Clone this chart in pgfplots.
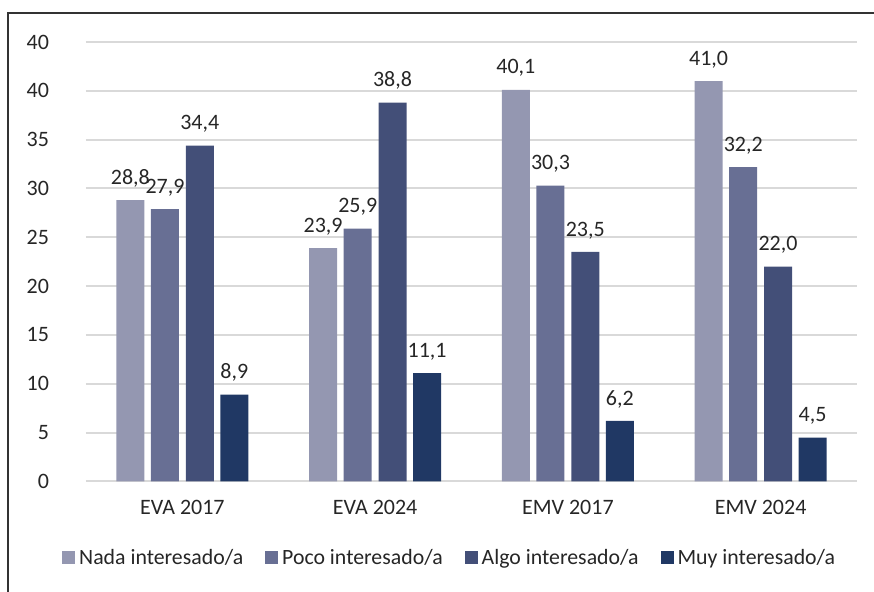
\documentclass[border=0pt]{standalone}
\usepackage{pgfplots}
\pgfplotsset{compat=1.18}
\usepackage{fontspec}
\setmainfont{Carlito}
\definecolor{cNada}{HTML}{9497B1}
\definecolor{cPoco}{HTML}{686F94}
\definecolor{cAlgo}{HTML}{434F78}
\definecolor{cMuy}{HTML}{203864}
\definecolor{txt}{HTML}{262626}
\definecolor{grid}{HTML}{D9D9D9}
\begin{document}
\begin{tikzpicture}
\useasboundingbox (0,0) rectangle (437pt,296pt);
\draw[line width=1pt, color=black!80] (4pt,0pt) -- (4pt,289.5pt) -- (437pt,289.5pt);
\begin{axis}[
  at={(43pt,55.25pt)}, anchor=south west,
  scale only axis, width=385.5pt, height=219.75pt,
  xmin=-0.5, xmax=3.5, ymin=0, ymax=45,
  axis line style={draw=none},
  xtick={0,1,2,3},
  xticklabels={EVA 2017, EVA 2024, EMV 2017, EMV 2024},
  ytick={0,5,10,15,20,25,30,35,40,45},
  yticklabels={0,5,10,15,20,25,30,35,40,40},
  major tick length=0pt,
  ymajorgrids, grid style={color=grid, line width=1pt},
  tick label style={font=\fontsize{11}{13}\selectfont, text=txt},
  yticklabel style={xshift=-15pt},
  xticklabel style={yshift=-6pt},
  /pgf/number format/assume math mode=true,
  ybar, bar width=14pt,
  nodes near coords,
  nodes near coords style={yshift=3pt, font=\fontsize{11}{13}\selectfont, text=txt, /pgf/number format/.cd, use comma, fixed, fixed zerofill, precision=1, assume math mode=true},
  legend columns=4,
  legend style={draw=none, at={(0.473,-0.174)}, anchor=center, font=\fontsize{10.9}{13}\selectfont, text=txt, /tikz/every even column/.append style={column sep=9pt}},
  legend image code/.code={\fill[#1] (0pt,-3.25pt) rectangle (6.5pt,3.25pt);},
  legend cell align=left,
]
\addplot[fill=cNada, draw=none, bar shift=-26pt] coordinates {(0,28.8) (1,23.9) (2,40.1) (3,41.0)};
\addlegendentry{Nada interesado/a}
\addplot[fill=cPoco, draw=none, bar shift=-8.7pt] coordinates {(0,27.9) (1,25.9) (2,30.3) (3,32.2)};
\addlegendentry{Poco interesado/a}
\addplot[fill=cAlgo, draw=none, bar shift=8.7pt] coordinates {(0,34.4) (1,38.8) (2,23.5) (3,22.0)};
\addlegendentry{Algo interesado/a}
\addplot[fill=cMuy, draw=none, bar shift=26pt] coordinates {(0,8.9) (1,11.1) (2,6.2) (3,4.5)};
\addlegendentry{Muy interesado/a}
\end{axis}
\end{tikzpicture}
\end{document}
